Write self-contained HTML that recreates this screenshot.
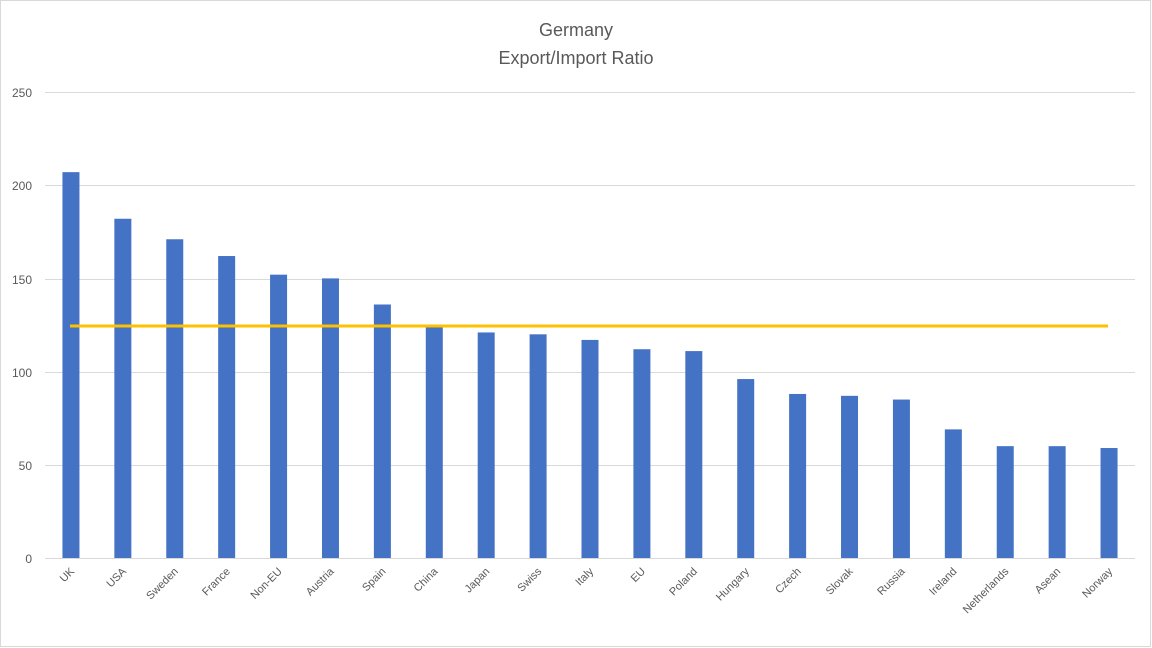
<!DOCTYPE html>
<html><head><meta charset="utf-8"><style>
html,body{margin:0;padding:0;background:#fff;}
svg{display:block;font-family:"Liberation Sans",sans-serif;}
</style></head><body>
<svg width="1152" height="648" viewBox="0 0 1152 648" xmlns="http://www.w3.org/2000/svg">
<rect x="0.5" y="0.5" width="1150" height="646" fill="#fff" stroke="#d9d9d9"/>
<text x="576" y="36" text-anchor="middle" font-size="18" fill="#595959">Germany</text>
<text x="576" y="64" text-anchor="middle" font-size="18" fill="#595959">Export/Import Ratio</text>
<g stroke="#d9d9d9" stroke-width="1">
<line x1="45" x2="1135" y1="92.5" y2="92.5"/>
<line x1="45" x2="1135" y1="185.5" y2="185.5"/>
<line x1="45" x2="1135" y1="279.5" y2="279.5"/>
<line x1="45" x2="1135" y1="372.5" y2="372.5"/>
<line x1="45" x2="1135" y1="465.5" y2="465.5"/>
<line x1="45" x2="1135" y1="558.5" y2="558.5"/>
</g>
<g font-size="12" fill="#595959" text-anchor="end">
<text x="32" y="97">250</text>
<text x="32" y="190">200</text>
<text x="32" y="284">150</text>
<text x="32" y="377">100</text>
<text x="32" y="470">50</text>
<text x="32" y="563">0</text>
</g>
<g id="bars" fill="#4472c4"></g>
<line x1="70" x2="1108" y1="326" y2="326" stroke="#ffc000" stroke-width="3"/>
<g id="labels" font-size="11" fill="#595959"></g>
</svg>
<script>
var names=["UK","USA","Sweden","France","Non-EU","Austria","Spain","China","Japan","Swiss","Italy","EU","Poland","Hungary","Czech","Slovak","Russia","Ireland","Netherlands","Asean","Norway"];
var vals=[207,182,171,162,152,150,136,124,121,120,117,112,111,96,88,87,85,69,60,60,59];
var ns="http://www.w3.org/2000/svg",b=document.getElementById("bars"),l=document.getElementById("labels");
var step=1090/21;
for(var i=0;i<21;i++){
 var cx=45+step*(i+0.5),h=vals[i]*1.864;
 var r=document.createElementNS(ns,"rect");
 r.setAttribute("x",cx-8.5);r.setAttribute("width",17);
 r.setAttribute("y",558-h);r.setAttribute("height",h);b.appendChild(r);
 var t=document.createElementNS(ns,"text");
 t.setAttribute("text-anchor","end");
 t.setAttribute("transform","translate("+(cx+4)+",572) rotate(-45)");
 t.textContent=names[i];l.appendChild(t);
}
</script>
</body></html>
